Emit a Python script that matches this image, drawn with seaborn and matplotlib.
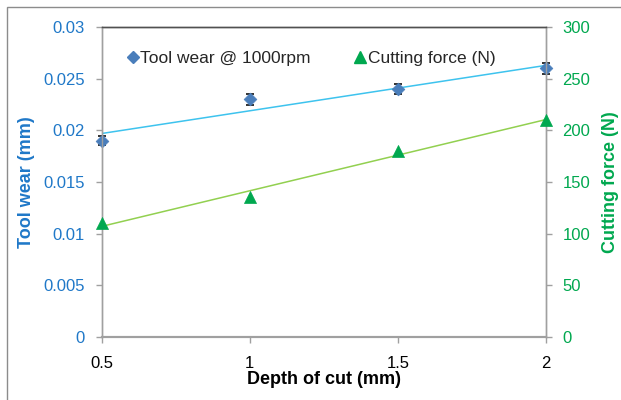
import numpy as np
import pandas as pd
import matplotlib
matplotlib.use("Agg")
import matplotlib.pyplot as plt
from matplotlib.patches import Rectangle
from matplotlib.lines import Line2D
import seaborn as sns

depth = [0.5, 1.0, 1.5, 2.0]
tool_wear = [0.019, 0.023, 0.024, 0.026]
tool_wear_err = [0.00045, 0.0005, 0.0005, 0.00055]
cutting_force = [110, 135, 180, 210]

left_ticks = [0, 0.005, 0.01, 0.015, 0.02, 0.025, 0.03]
left_labels = ["0", "0.005", "0.01", "0.015", "0.02", "0.025", "0.03"]
right_ticks = [0, 50, 100, 150, 200, 250, 300]
x_ticks = [0.5, 1, 1.5, 2]
x_labels = ["0.5", "1", "1.5", "2"]

df = pd.DataFrame({"depth": depth, "wear": tool_wear, "force": cutting_force})

sns.set_theme(style="white")
plt.rcParams["font.family"] = ["Liberation Sans", "DejaVu Sans"]

BLUE_TXT = "#1F78C8"
GREEN_TXT = "#00A84F"
BLUE_MK = "#4A7EBB"
GREEN_MK = "#00A84F"
BLUE_LN = "#3EC3EE"
GREEN_LN = "#92D050"
SPINE = "#A0A0A0"

fig = plt.figure(figsize=(6.21, 4.0), dpi=100)
ax = fig.add_axes([0.1638, 0.158, 0.879 - 0.1638, 0.932 - 0.158])
ax2 = ax.twinx()

# outer frame
fig.patches.append(Rectangle((0.0113, -0.05), 1.1, 0.9825 + 0.05, transform=fig.transFigure,
                             fill=False, edgecolor="#8C8C8C", linewidth=1.0))

# trend lines
sns.regplot(data=df, x="depth", y="wear", ax=ax, scatter=False, ci=None,
            line_kws=dict(color=BLUE_LN, lw=1.1, zorder=2))
sns.regplot(data=df, x="depth", y="force", ax=ax2, scatter=False, ci=None,
            line_kws=dict(color=GREEN_LN, lw=1.1, zorder=2))

# error bars + points
ax.errorbar(depth, tool_wear, yerr=tool_wear_err, fmt="none", ecolor="#111111",
            elinewidth=1.0, capsize=3, capthick=1.2, zorder=3, clip_on=False)
sns.scatterplot(data=df, x="depth", y="wear", ax=ax, marker="D", s=42,
                color=BLUE_MK, edgecolor=BLUE_MK, linewidth=0.5, zorder=4, clip_on=False)
sns.scatterplot(data=df, x="depth", y="force", ax=ax2, marker="^", s=75,
                color=GREEN_MK, edgecolor=GREEN_MK, linewidth=0.5, zorder=4, clip_on=False)

ax.set_xlim(0.5, 2)
ax.set_ylim(0, 0.03)
ax2.set_ylim(0, 300)
ax.set_xticks(x_ticks)
ax.set_xticklabels(x_labels)
ax.set_yticks(left_ticks)
ax.set_yticklabels(left_labels)
ax2.set_yticks(right_ticks)
ax2.set_yticklabels([str(t) for t in right_ticks])

for a in (ax, ax2):
    for s in a.spines.values():
        s.set_color(SPINE)
        s.set_linewidth(1.0)
    a.spines["top"].set_color("#505050")
    a.spines["bottom"].set_linewidth(1.5)
    a.grid(False)

ax.tick_params(axis="x", direction="out", length=4, width=1, color=SPINE,
               labelsize=12, labelcolor="black", pad=10, bottom=True)
ax.tick_params(axis="y", direction="out", length=4, width=1, color=SPINE,
               labelsize=12, labelcolor=BLUE_TXT, pad=8, left=True)
ax2.tick_params(axis="y", direction="out", length=4, width=1, color=SPINE,
                labelsize=12, labelcolor=GREEN_TXT, pad=8, right=True)

ax.set_xlabel("Depth of cut (mm)", fontsize=13, fontweight="bold", color="black", labelpad=0)
ax.set_ylabel("Tool wear (mm)", fontsize=13, fontweight="bold", color=BLUE_TXT, labelpad=6)
ax2.set_ylabel("Cutting force (N)", fontsize=13, fontweight="bold", color=GREEN_TXT, labelpad=8)

handles = [
    Line2D([], [], marker="D", color=BLUE_MK, linestyle="none", markersize=6),
    Line2D([], [], marker="^", color=GREEN_MK, linestyle="none", markersize=8),
]
ax.legend(handles, ["Tool wear @ 1000rpm", "Cutting force (N)"], ncol=2, frameon=False,
          loc="upper left", bbox_to_anchor=(0.042, 0.945), fontsize=12.5,
          handlelength=0.6, handletextpad=0.15, columnspacing=2.55, borderaxespad=0)

fig.savefig("out.png", dpi=100)
